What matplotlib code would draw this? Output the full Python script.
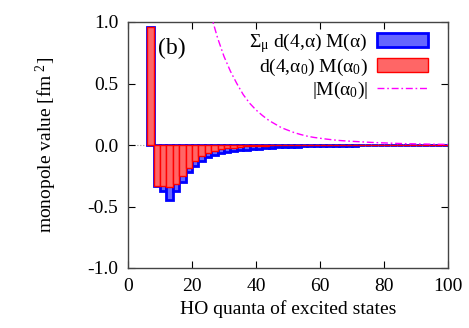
import matplotlib
matplotlib.use("Agg")
import matplotlib.pyplot as plt
from matplotlib.patches import Patch
from matplotlib.lines import Line2D

plt.rcParams['font.family'] = ['Liberation Serif', 'DejaVu Serif']
plt.rcParams['mathtext.fontset'] = 'custom'
plt.rcParams['mathtext.rm'] = 'Liberation Serif'
plt.rcParams['mathtext.it'] = 'Liberation Serif'
plt.rcParams['mathtext.bf'] = 'Liberation Serif'
plt.rcParams['axes.unicode_minus'] = False

# HO quanta (left edge of each bar, width 2)
quanta = list(range(6, 100, 2))
# d(4,alpha0) M(alpha0)
red_vals = [0.96, -0.33, -0.33, -0.345, -0.32, -0.25, -0.185, -0.128, -0.09, -0.062,
            -0.046, -0.035, -0.027, -0.021, -0.016, -0.012, -0.009, -0.007, -0.005, -0.004,
            -0.003, -0.002, -0.0015, -0.001, -0.001, -0.0008, -0.0006, -0.0005, -0.0004, -0.0003,
            -0.0003, -0.0002, -0.0002, -0.0001, -0.0001, -0.0001, -0.0001, 0.0, 0.0, 0.0,
            0.0, 0.0, 0.0, 0.0, 0.0, 0.0, 0.0]
# Sum_mu d(4,alpha) M(alpha)
blue_vals = [0.96, -0.335, -0.375, -0.45, -0.37, -0.30, -0.22, -0.17, -0.13, -0.10,
             -0.079, -0.065, -0.057, -0.05, -0.044, -0.038, -0.033, -0.029, -0.026, -0.023,
             -0.02, -0.018, -0.016, -0.014, -0.012, -0.011, -0.01, -0.009, -0.008, -0.007,
             -0.006, -0.005, -0.0045, -0.004, -0.0035, -0.003, -0.0027, -0.0024, -0.002, -0.0018,
             -0.0016, -0.0014, -0.0012, -0.001, -0.0009, -0.0008, -0.0007]
# |M(alpha0)|
m_quanta = [20, 22, 24, 26, 28, 30, 32, 34, 36, 38, 40, 42, 44, 46, 48, 50, 52, 54, 56, 58,
            60, 62, 64, 66, 68, 70, 72, 74, 76, 78, 80, 84, 88, 92, 96, 100]
m_vals = [2.0, 1.6, 1.3, 1.05, 0.87, 0.72, 0.6, 0.5, 0.41, 0.34, 0.285, 0.24, 0.2, 0.17,
          0.14, 0.12, 0.1, 0.085, 0.072, 0.062, 0.055, 0.048, 0.042, 0.037, 0.033, 0.03,
          0.027, 0.024, 0.021, 0.019, 0.017, 0.013, 0.01, 0.008, 0.006, 0.005]

labels = [r'$\Sigma_\mu$ d(4,$\alpha$) M($\alpha$)',
          r'd(4,$\alpha_0$) M($\alpha_0$)',
          r'|M($\alpha_0$)|']

blue_face = '#6666ff'
red_face = '#ff6666'
fs = 14

fig = plt.figure(figsize=(4.69, 3.28), dpi=100)
ax = fig.add_axes([128/469, 60/328, 320/469, 246/328])

ax.axhline(0, color='#999999', ls=':', lw=0.8, zorder=0)
ax.bar(quanta, blue_vals, width=2, align='edge', color=blue_face,
       edgecolor='#0000ff', linewidth=2.0, zorder=2)
ax.bar(quanta, red_vals, width=2, align='edge', color=red_face,
       edgecolor='#ff0000', linewidth=1.0, zorder=3)
ax.plot(m_quanta, m_vals, color='#ff00ff', lw=1.0,
        linestyle=(0, (5, 2, 1.2, 2)), zorder=4)

ax.set_xlim(0, 100)
ax.set_ylim(-1.0, 1.0)
ax.set_xticks([0, 20, 40, 60, 80, 100])
ax.set_yticks([-1.0, -0.5, 0.0, 0.5, 1.0])
ax.set_yticklabels(['-1.0', '-0.5', '0.0', '0.5', '1.0'])
ax.tick_params(direction='in', top=True, right=True, length=5, width=0.8,
               labelsize=fs, colors='black', pad=7)
for s in ax.spines.values():
    s.set_color('#444444')
    s.set_linewidth(1.0)

ax.set_xlabel('HO quanta of excited states', fontsize=fs, labelpad=4)
ax.set_ylabel(r'monopole value [fm$^{\ 2}$]', fontsize=fs, labelpad=20)

ax.text(9.5, 0.87, '(b)', fontsize=17, ha='left', va='top', zorder=5)

handles = [Patch(facecolor=blue_face, edgecolor='#0000ff', linewidth=2.0),
           Patch(facecolor=red_face, edgecolor='#ff0000', linewidth=1.0),
           Line2D([0], [0], color='#ff00ff', lw=1.0, linestyle=(0, (5, 2, 1.2, 2)))]
leg = ax.legend(handles, labels, loc='upper right', bbox_to_anchor=(0.9375, 0.965),
                frameon=False, markerfirst=False, fontsize=fs, handlelength=2.6,
                handleheight=0.72, labelspacing=0.1, borderpad=0, borderaxespad=0,
                handletextpad=0.5)
for t in leg.get_texts():
    t.set_ha('right')

fig.savefig('out.png', dpi=100)
